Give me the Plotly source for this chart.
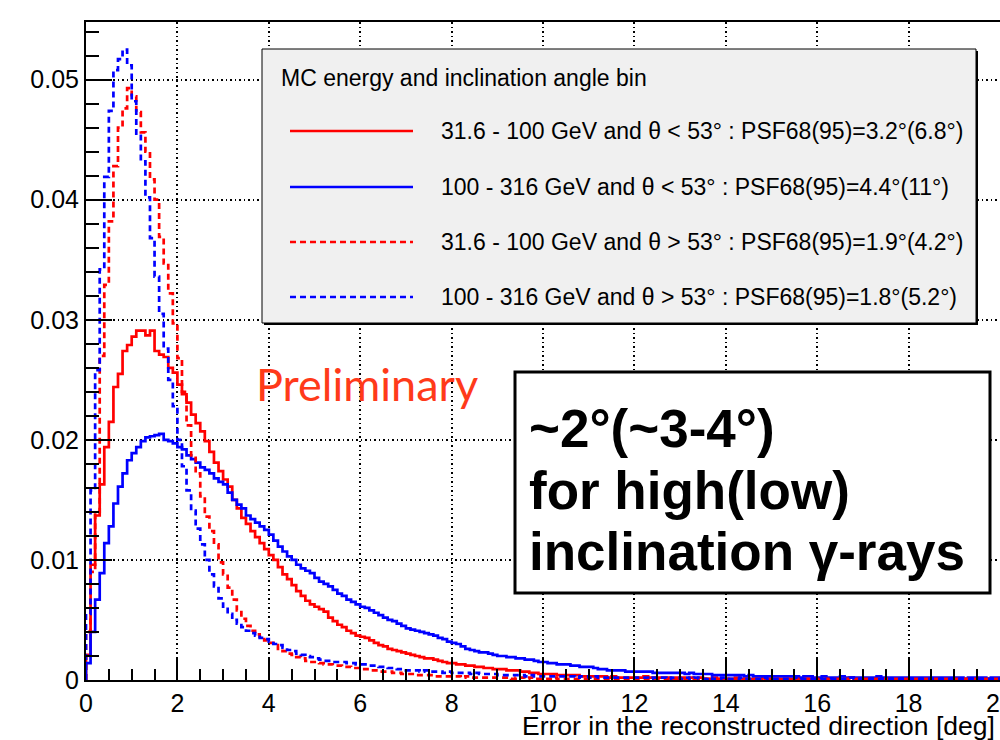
import plotly.graph_objects as go

# ---------------- data (0.1 deg bins, 0-20 deg) ----------------
BIN_WIDTH = 0.1
N_BINS = 200
X_MIN, X_MAX = 0.0, 20.0
Y_MAX = 0.0548

# 31.6 - 100 GeV, theta < 53 deg (solid red)
solid_red = [
    0.0021, 0.0096, 0.0137, 0.0163, 0.0194, 0.0215, 0.0244, 0.0255, 0.0274, 0.0279,
    0.0286, 0.0291, 0.0291, 0.0287, 0.0291, 0.0274, 0.0271, 0.0269, 0.0260, 0.0256,
    0.0246, 0.0238, 0.0231, 0.0221, 0.0214, 0.0207, 0.0199, 0.0190, 0.0181, 0.0174,
    0.0167, 0.0161, 0.0150, 0.0143, 0.0135, 0.0130, 0.0124, 0.0119, 0.0114, 0.0109,
    0.0104, 0.0100, 0.0094, 0.0088, 0.0084, 0.0079, 0.0074, 0.0070, 0.0066, 0.0063,
    0.0061, 0.0059, 0.0057, 0.0052, 0.0049, 0.0046, 0.0044, 0.0041, 0.0039, 0.0037,
    0.0036, 0.0035, 0.0033, 0.0031, 0.0029, 0.0028, 0.0026, 0.0025, 0.0024, 0.0023,
    0.0022, 0.0021, 0.0020, 0.0019, 0.0018, 0.0018, 0.0017, 0.0016, 0.0015, 0.0014,
    0.0014, 0.0013, 0.0013, 0.0012, 0.0012, 0.0011, 0.0011, 0.0010, 0.0010, 0.0009,
    0.0009, 0.0009, 0.0008, 0.0008, 0.0008, 0.0007, 0.0007, 0.0006, 0.0006, 0.0005,
    0.0005, 0.0005, 0.0005, 0.0004, 0.0004, 0.0004, 0.0004, 0.0004, 0.0003, 0.0003,
    0.0003, 0.0003, 0.0003, 0.0003, 0.0002, 0.0003, 0.0002, 0.0002, 0.0002, 0.0002,
    0.0002, 0.0002, 0.0003, 0.0002, 0.0002, 0.0002, 0.0002, 0.0002, 0.0001, 0.0002,
    0.0002, 0.0001, 0.0002, 0.0001, 0.0002, 0.0001, 0.0001, 0.0002, 0.0001, 0.0001,
    0.0001, 0.0001, 0.0002, 0.0001, 0.0001, 0.0001, 0.0001, 0.0001, 0.0002, 0.0001,
    0.0001, 0.0001, 0.0001, 0.0001, 0.0001, 0.0002, 0.0001, 0.0001, 0.0001, 0.0001,
    0.0001, 0.0001, 0.0001, 0.0001, 0.0001, 0.0001, 0.0001, 0.0002, 0.0001, 0.0001,
    0.0001, 0.0001, 0.0001, 0.0001, 0.0001, 0.0001, 0.0001, 0.0001, 0.0001, 0.0001,
    0.0001, 0.0001, 0.0001, 0.0000, 0.0001, 0.0001, 0.0001, 0.0001, 0.0001, 0.0001,
    0.0001, 0.0001, 0.0001, 0.0001, 0.0001, 0.0000, 0.0001, 0.0001, 0.0001, 0.0001,
]

# 100 - 316 GeV, theta < 53 deg (solid blue)
solid_blue = [
    0.0014, 0.0040, 0.0067, 0.0089, 0.0114, 0.0128, 0.0147, 0.0161, 0.0172, 0.0183,
    0.0189, 0.0194, 0.0199, 0.0202, 0.0203, 0.0204, 0.0205, 0.0200, 0.0199, 0.0197,
    0.0194, 0.0192, 0.0187, 0.0184, 0.0181, 0.0177, 0.0175, 0.0172, 0.0168, 0.0165,
    0.0163, 0.0156, 0.0150, 0.0146, 0.0143, 0.0137, 0.0134, 0.0131, 0.0128, 0.0125,
    0.0121, 0.0116, 0.0111, 0.0107, 0.0103, 0.0100, 0.0096, 0.0093, 0.0091, 0.0089,
    0.0085, 0.0082, 0.0080, 0.0078, 0.0075, 0.0072, 0.0070, 0.0067, 0.0065, 0.0063,
    0.0061, 0.0060, 0.0058, 0.0056, 0.0054, 0.0052, 0.0050, 0.0049, 0.0047, 0.0045,
    0.0043, 0.0042, 0.0041, 0.0040, 0.0039, 0.0038, 0.0037, 0.0035, 0.0034, 0.0032,
    0.0031, 0.0030, 0.0028, 0.0026, 0.0025, 0.0024, 0.0023, 0.0023, 0.0022, 0.0021,
    0.0020, 0.0020, 0.0019, 0.0019, 0.0018, 0.0018, 0.0017, 0.0017, 0.0016, 0.0015,
    0.0015, 0.0014, 0.0014, 0.0013, 0.0013, 0.0013, 0.0012, 0.0012, 0.0011, 0.0011,
    0.0011, 0.0010, 0.0009, 0.0009, 0.0008, 0.0008, 0.0008, 0.0008, 0.0007, 0.0007,
    0.0007, 0.0007, 0.0007, 0.0007, 0.0006, 0.0006, 0.0006, 0.0006, 0.0006, 0.0006,
    0.0006, 0.0005, 0.0006, 0.0005, 0.0005, 0.0005, 0.0005, 0.0004, 0.0004, 0.0004,
    0.0004, 0.0004, 0.0004, 0.0004, 0.0003, 0.0004, 0.0003, 0.0003, 0.0003, 0.0003,
    0.0003, 0.0003, 0.0003, 0.0003, 0.0003, 0.0003, 0.0002, 0.0003, 0.0003, 0.0002,
    0.0002, 0.0003, 0.0002, 0.0002, 0.0002, 0.0003, 0.0002, 0.0002, 0.0002, 0.0002,
    0.0002, 0.0002, 0.0002, 0.0003, 0.0002, 0.0002, 0.0002, 0.0002, 0.0002, 0.0002,
    0.0002, 0.0002, 0.0002, 0.0002, 0.0002, 0.0002, 0.0002, 0.0002, 0.0002, 0.0002,
    0.0002, 0.0002, 0.0001, 0.0002, 0.0002, 0.0002, 0.0002, 0.0001, 0.0002, 0.0002,
]

# 31.6 - 100 GeV, theta > 53 deg (dashed red)
dashed_red = [
    0.0040, 0.0090, 0.0140, 0.0270, 0.0329, 0.0382, 0.0428, 0.0460, 0.0476, 0.0493,
    0.0486, 0.0473, 0.0456, 0.0440, 0.0417, 0.0400, 0.0369, 0.0347, 0.0322, 0.0297,
    0.0268, 0.0240, 0.0212, 0.0187, 0.0172, 0.0153, 0.0136, 0.0124, 0.0113, 0.0098,
    0.0088, 0.0077, 0.0067, 0.0058, 0.0051, 0.0045, 0.0041, 0.0038, 0.0036, 0.0033,
    0.0031, 0.0029, 0.0026, 0.0024, 0.0022, 0.0021, 0.0019, 0.0018, 0.0016, 0.0015,
    0.0015, 0.0014, 0.0013, 0.0013, 0.0012, 0.0012, 0.0011, 0.0011, 0.0010, 0.0010,
    0.0009, 0.0009, 0.0008, 0.0008, 0.0007, 0.0007, 0.0007, 0.0006, 0.0006, 0.0005,
    0.0005, 0.0005, 0.0004, 0.0004, 0.0004, 0.0004, 0.0003, 0.0003, 0.0003, 0.0003,
    0.0003, 0.0003, 0.0002, 0.0003, 0.0002, 0.0002, 0.0002, 0.0002, 0.0002, 0.0002,
    0.0002, 0.0002, 0.0002, 0.0001, 0.0002, 0.0002, 0.0001, 0.0002, 0.0001, 0.0001,
    0.0001, 0.0001, 0.0002, 0.0001, 0.0001, 0.0001, 0.0001, 0.0001, 0.0001, 0.0001,
    0.0001, 0.0001, 0.0001, 0.0001, 0.0001, 0.0001, 0.0001, 0.0001, 0.0001, 0.0001,
    0.0001, 0.0001, 0.0001, 0.0001, 0.0001, 0.0001, 0.0001, 0.0001, 0.0001, 0.0001,
    0.0001, 0.0001, 0.0001, 0.0001, 0.0001, 0.0001, 0.0001, 0.0001, 0.0001, 0.0001,
    0.0001, 0.0001, 0.0001, 0.0001, 0.0001, 0.0001, 0.0001, 0.0001, 0.0001, 0.0001,
    0.0001, 0.0001, 0.0001, 0.0001, 0.0001, 0.0001, 0.0001, 0.0001, 0.0001, 0.0001,
    0.0001, 0.0001, 0.0001, 0.0001, 0.0001, 0.0001, 0.0001, 0.0001, 0.0001, 0.0001,
    0.0001, 0.0001, 0.0001, 0.0001, 0.0001, 0.0001, 0.0001, 0.0001, 0.0001, 0.0001,
    0.0001, 0.0001, 0.0001, 0.0001, 0.0001, 0.0001, 0.0001, 0.0001, 0.0001, 0.0001,
    0.0001, 0.0001, 0.0001, 0.0001, 0.0001, 0.0001, 0.0001, 0.0001, 0.0001, 0.0001,
]

# 100 - 316 GeV, theta > 53 deg (dashed blue)
dashed_blue = [
    0.0055, 0.0158, 0.0258, 0.0342, 0.0419, 0.0474, 0.0508, 0.0517, 0.0525, 0.0512,
    0.0482, 0.0455, 0.0432, 0.0402, 0.0368, 0.0336, 0.0305, 0.0276, 0.0250, 0.0228,
    0.0200, 0.0178, 0.0158, 0.0141, 0.0126, 0.0113, 0.0100, 0.0088, 0.0078, 0.0068,
    0.0061, 0.0055, 0.0050, 0.0047, 0.0044, 0.0041, 0.0039, 0.0037, 0.0035, 0.0034,
    0.0032, 0.0030, 0.0029, 0.0027, 0.0025, 0.0024, 0.0022, 0.0021, 0.0020, 0.0019,
    0.0018, 0.0017, 0.0016, 0.0016, 0.0015, 0.0015, 0.0015, 0.0014, 0.0014, 0.0013,
    0.0013, 0.0013, 0.0012, 0.0012, 0.0011, 0.0011, 0.0010, 0.0010, 0.0009, 0.0009,
    0.0008, 0.0008, 0.0008, 0.0007, 0.0008, 0.0007, 0.0007, 0.0007, 0.0006, 0.0007,
    0.0006, 0.0006, 0.0006, 0.0006, 0.0005, 0.0006, 0.0005, 0.0005, 0.0005, 0.0005,
    0.0004, 0.0004, 0.0004, 0.0004, 0.0004, 0.0004, 0.0003, 0.0004, 0.0003, 0.0003,
    0.0003, 0.0003, 0.0003, 0.0003, 0.0003, 0.0003, 0.0003, 0.0002, 0.0003, 0.0003,
    0.0002, 0.0003, 0.0002, 0.0002, 0.0002, 0.0002, 0.0002, 0.0002, 0.0002, 0.0002,
    0.0002, 0.0002, 0.0002, 0.0001, 0.0002, 0.0002, 0.0002, 0.0001, 0.0002, 0.0002,
    0.0001, 0.0002, 0.0001, 0.0002, 0.0001, 0.0001, 0.0002, 0.0001, 0.0001, 0.0002,
    0.0001, 0.0001, 0.0001, 0.0002, 0.0001, 0.0001, 0.0001, 0.0001, 0.0002, 0.0001,
    0.0001, 0.0001, 0.0001, 0.0001, 0.0001, 0.0002, 0.0001, 0.0001, 0.0001, 0.0001,
    0.0001, 0.0001, 0.0001, 0.0001, 0.0001, 0.0001, 0.0001, 0.0002, 0.0001, 0.0001,
    0.0001, 0.0001, 0.0001, 0.0001, 0.0001, 0.0001, 0.0001, 0.0001, 0.0001, 0.0001,
    0.0001, 0.0001, 0.0001, 0.0001, 0.0001, 0.0001, 0.0001, 0.0001, 0.0001, 0.0001,
    0.0001, 0.0001, 0.0001, 0.0001, 0.0001, 0.0001, 0.0001, 0.0001, 0.0001, 0.0001,
]

series_labels = [
    "31.6 - 100 GeV and \u03b8 < 53\u00b0 : PSF68(95)=3.2\u00b0(6.8\u00b0)",
    "100 - 316 GeV and \u03b8 < 53\u00b0 : PSF68(95)=4.4\u00b0(11\u00b0)",
    "31.6 - 100 GeV and \u03b8 > 53\u00b0 : PSF68(95)=1.9\u00b0(4.2\u00b0)",
    "100 - 316 GeV and \u03b8 > 53\u00b0 : PSF68(95)=1.8\u00b0(5.2\u00b0)",
]
series_values = [solid_red, solid_blue, dashed_red, dashed_blue]
series_colors = ["#ff0000", "#0000ff", "#ff0000", "#0000ff"]
series_dash = ["solid", "solid", "6px,4px", "6px,4px"]

legend_title = "MC energy and inclination angle bin"
x_title = "Error in the reconstructed direction [deg]"
watermark = "Preliminary"
box_lines = ["~2\u00b0(~3-4\u00b0)", "for high(low)", "inclination \u03b3-rays"]

# ---------------- figure ----------------
W, H = 1000, 740
L, R, T, B = 86, 0, 22, 60
PW, PH = W - L - R, H - T - B
FONT = "Liberation Sans, Arial, sans-serif"


def pxx(px):
    return (px - L) / PW


def pxy(py):
    return (H - B - py) / PH


edges = [round(i * BIN_WIDTH, 4) for i in range(N_BINS + 1)]

fig = go.Figure()
for vals, col, dash, name in zip(series_values, series_colors, series_dash, series_labels):
    fig.add_trace(go.Scatter(
        x=[edges[0]] + edges,
        y=[0.0] + vals + [vals[-1]],
        mode="lines",
        line=dict(color=col, width=2.7, shape="hv", dash=dash),
        name=name,
        hoverinfo="skip",
    ))

axis_common = dict(
    showline=True, linecolor="black", linewidth=2, mirror=True,
    ticks="inside", tickcolor="black", tickwidth=1.5,
    showgrid=True, gridcolor="black", gridwidth=1.5, griddash="1.5px,3px",
    zeroline=False, ticklabeloverflow="allow", automargin=False,
    tickfont=dict(size=25, color="black", family=FONT),
)

fig.update_layout(
    width=W, height=H,
    margin=dict(l=L, r=R, t=T, b=B, pad=0, autoexpand=False),
    paper_bgcolor="white", plot_bgcolor="white",
    showlegend=False,
    font=dict(family=FONT, color="black"),
    xaxis=dict(range=[X_MIN, X_MAX], tick0=0, dtick=2, ticklen=22,
               minor=dict(dtick=0.5, ticks="inside", ticklen=11, tickcolor="black",
                          tickwidth=1.5, showgrid=False),
               **axis_common),
    yaxis=dict(range=[0, Y_MAX], tick0=0, dtick=0.01, ticklen=26,
               minor=dict(dtick=0.002, ticks="inside", ticklen=13, tickcolor="black",
                          tickwidth=1.5, showgrid=False),
               **axis_common),
)

shapes = []
annotations = []

# legend box with shadow
lx0, ly0, lx1, ly1 = 262, 49, 976, 323
shapes.append(dict(type="rect", xref="paper", yref="paper",
                   x0=pxx(lx0 + 2), x1=pxx(lx1 + 2), y0=pxy(ly1 + 2), y1=pxy(ly0 + 2),
                   fillcolor="black", line=dict(width=0), layer="above"))
shapes.append(dict(type="rect", xref="paper", yref="paper",
                   x0=pxx(lx0), x1=pxx(lx1), y0=pxy(ly1), y1=pxy(ly0),
                   fillcolor="#f0f0f0", line=dict(color="black", width=1), layer="above"))
annotations.append(dict(xref="paper", yref="paper", x=pxx(279), y=pxy(78),
                        text=legend_title, showarrow=False, xanchor="left", yanchor="middle",
                        font=dict(size=23, color="black", family=FONT)))
row_y = [131, 187, 242, 297]
for ry, col, dash, name in zip(row_y, series_colors, series_dash, series_labels):
    shapes.append(dict(type="line", xref="paper", yref="paper",
                       x0=pxx(290), x1=pxx(413), y0=pxy(ry), y1=pxy(ry),
                       line=dict(color=col, width=2.7, dash=dash), layer="above"))
    annotations.append(dict(xref="paper", yref="paper", x=pxx(439), y=pxy(ry),
                            text=name, showarrow=False, xanchor="left", yanchor="middle",
                            font=dict(size=23, color="black", family=FONT)))

# Preliminary
annotations.append(dict(xref="paper", yref="paper", x=pxx(367), y=pxy(384),
                        text=watermark, showarrow=False, xanchor="center", yanchor="middle",
                        font=dict(size=45, color="#ff3a1a", family="Lato, Open Sans, sans-serif")))

# big statement box
shapes.append(dict(type="rect", xref="paper", yref="paper",
                   x0=pxx(515), x1=pxx(990), y0=pxy(593), y1=pxy(372),
                   fillcolor="white", line=dict(color="black", width=3), layer="above"))
for by, txt in zip([428, 490, 551], box_lines):
    annotations.append(dict(xref="paper", yref="paper", x=pxx(527), y=pxy(by),
                            text="<b>" + txt + "</b>", showarrow=False,
                            xanchor="left", yanchor="middle",
                            font=dict(size=53, color="black", family=FONT)))

# x-axis title (right aligned)
annotations.append(dict(xref="paper", yref="paper", x=pxx(997), y=pxy(726),
                        text=x_title, showarrow=False, xanchor="right", yanchor="middle",
                        font=dict(size=26.5, color="black", family=FONT)))

fig.update_layout(shapes=shapes, annotations=annotations)
fig.write_html("out.html")
